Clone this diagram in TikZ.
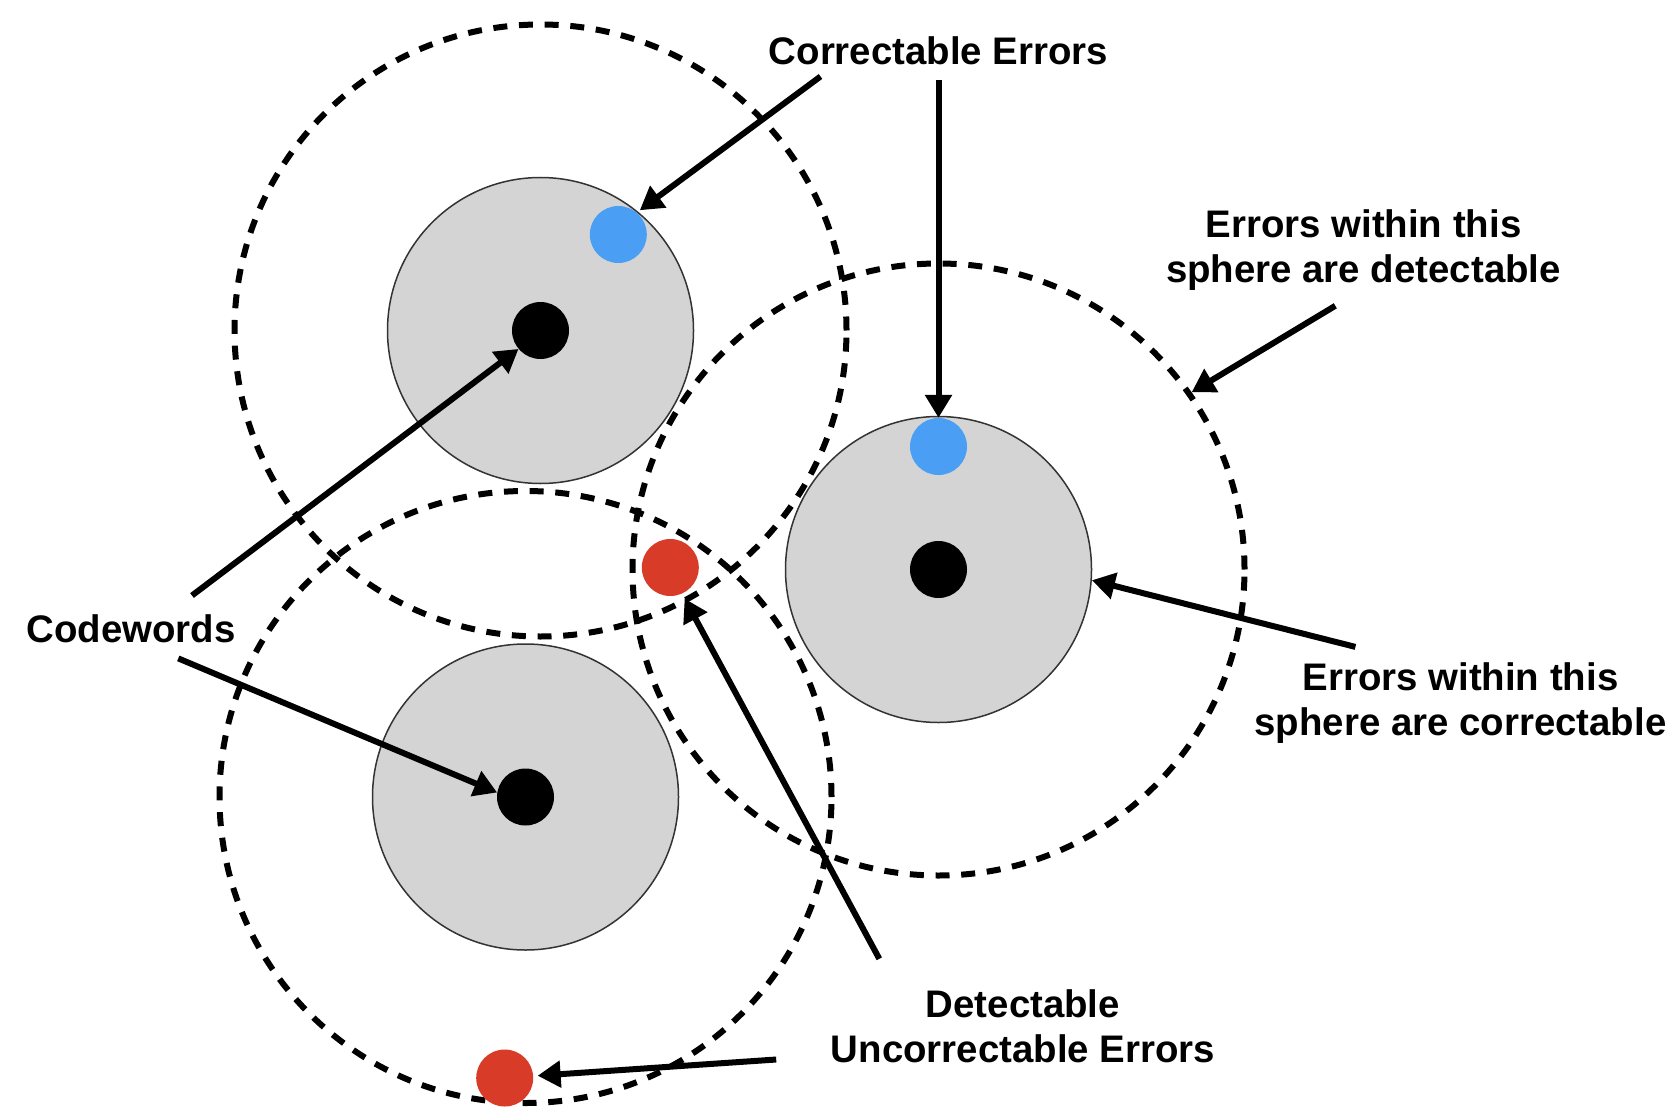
\documentclass[tikz,border=0pt]{standalone}
\usepackage{fontspec}
\setmainfont{Liberation Sans}
\usetikzlibrary{arrows.meta}
\definecolor{diskgrey}{HTML}{D5D4D5}
\definecolor{errblue}{HTML}{4A9FF5}
\definecolor{errred}{HTML}{D83B27}
\begin{document}
\begin{tikzpicture}[x=1pt,y=-1pt,
  disk/.style={circle, fill=diskgrey, draw=black!80, line width=1.5pt, minimum size=306pt, inner sep=0pt},
  sphere/.style={circle, draw=black, line width=6pt, dash pattern=on 14pt off 11.7pt, minimum size=612pt, inner sep=0pt},
  dotnode/.style={circle, minimum size=57pt, inner sep=0pt},
  arr/.style={line width=6pt, -{Triangle[length=23pt,width=26pt]}},
  lbl/.style={font=\fontsize{38.4}{45.5}\selectfont\bfseries, inner sep=0pt, align=center}]
\useasboundingbox (0,0) rectangle (1672,1107);
\fill[white] (0,0) rectangle (1672,1107);
% grey correctable spheres
\node[disk] (disk1) at (540.5,330.5) {};
\node[disk] (disk2) at (938.5,569.5) {};
\node[disk] (disk3) at (525.5,797) {};
% dashed detectable spheres
\node[sphere] (sph1) at (540.5,330.5) {};
\node[sphere] (sph2) at (938.5,569.5) {};
\node[sphere] (sph3) at (525.5,797) {};
% codewords
\node[dotnode, fill=black] (cw1) at (540.5,330.5) {};
\node[dotnode, fill=black] (cw2) at (938.5,569.5) {};
\node[dotnode, fill=black] (cw3) at (525.5,797) {};
% errors
\node[dotnode, fill=errblue] (ce1) at (618.3,234.5) {};
\node[dotnode, fill=errblue] (ce2) at (938.5,446.5) {};
\node[dotnode, fill=errred] (de1) at (670.3,567.5) {};
\node[dotnode, fill=errred] (de2) at (504.7,1078) {};
% labels
\node[lbl, anchor=base] (tCE) at (938.5,65) {Correctable Errors};
\node[lbl, anchor=base] (tCW) at (131,642) {Codewords};
\node[lbl] (tSD) at (1363.5,250.3) {Errors within this\\sphere are detectable};
\node[lbl] (tSC) at (1460.5,703) {Errors within this\\sphere are correctable};
\node[lbl] (tDU) at (1022.9,1026.3) {Detectable\\Uncorrectable Errors};
% arrow start points
\coordinate (a1) at (820.5,76.5);
\coordinate (a2) at (938.5,80);
\coordinate (a3) at (1335.3,305.8);
\coordinate (a4) at (1355.4,646.9);
\coordinate (a5) at (192,595.5);
\coordinate (a6) at (178.3,658.4);
\coordinate (a7) at (879.3,958.8);
\coordinate (a8) at (776.2,1059.5);
% arrows
\draw[arr, shorten >=3.8pt] (a1) -- (ce1.50.4);
\draw[arr] (a2) -- (ce2.north);
\draw[arr] (a3) -- (sph2.35.7);
\draw[arr] (a4) -- (disk2.-4.5);
\draw[arr] (a5) -- (cw1.220.4);
\draw[arr] (a6) -- (cw3.171.8);
\draw[arr, shorten >=5.5pt] (a7) -- (de1.-66);
\draw[arr, shorten >=4.3pt] (a8) -- (de2.4.3);
\end{tikzpicture}
\end{document}
